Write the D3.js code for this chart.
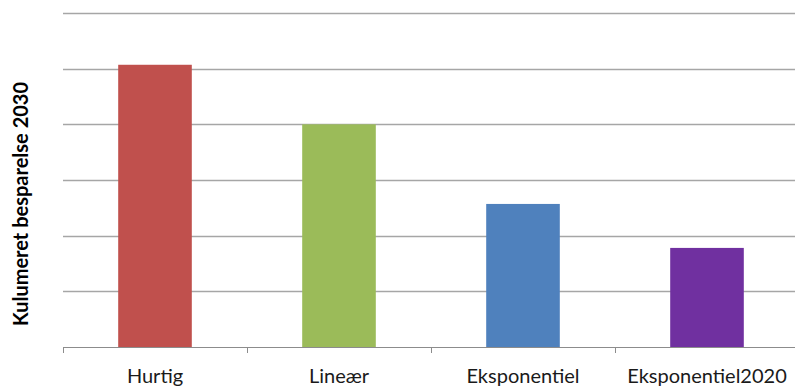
<!DOCTYPE html>
<html>
<head>
<meta charset="utf-8">
<script src="https://cdn.jsdelivr.net/npm/d3@7"></script>
<style>
  html, body { margin: 0; padding: 0; background: #fff; overflow: hidden; }
  svg { display: block; }
</style>
</head>
<body>
<svg id="chart" width="795" height="387"></svg>
<script>
// Cumulative savings 2030 per scenario (gridline units)
const categories = ["Hurtig", "Lineær", "Eksponentiel", "Eksponentiel2020"];
const savings = [5.07, 4.0, 2.57, 1.78];
const barColors = ["#C0504D", "#9BBB59", "#4F81BD", "#7030A0"];
const yTicks = [0, 1, 2, 3, 4, 5, 6];
const yTitle = "Kulumeret besparelse 2030";

const svg = d3.select("#chart");
const margin = { left: 63, top: 13, bottom: 40 };
const plotRight = 799;
const plotBottom = 347;

const x = d3.scaleBand()
  .domain(categories)
  .range([margin.left, plotRight])
  .paddingInner(0.6)
  .paddingOuter(0.3);

const y = d3.scaleLinear()
  .domain([0, 6])
  .range([plotBottom, margin.top]);

// Horizontal gridlines
svg.append("g")
  .selectAll("line")
  .data(yTicks.filter(d => d > 0))
  .join("line")
  .attr("x1", margin.left)
  .attr("x2", plotRight)
  .attr("y1", d => Math.round(y(d)) + 0.5)
  .attr("y2", d => Math.round(y(d)) + 0.5)
  .attr("stroke", "#a6a6a6")
  .attr("stroke-width", 1.3);

// Bars
svg.append("g")
  .selectAll("rect")
  .data(categories)
  .join("rect")
  .attr("x", d => x(d))
  .attr("width", x.bandwidth())
  .attr("y", (d, i) => y(savings[i]))
  .attr("height", (d, i) => plotBottom - y(savings[i]))
  .attr("fill", (d, i) => barColors[i]);

// Category axis: baseline with tick marks between categories
const xAxis = svg.append("g");
xAxis.append("line")
  .attr("x1", margin.left)
  .attr("x2", plotRight)
  .attr("y1", plotBottom + 0.5)
  .attr("y2", plotBottom + 0.5)
  .attr("stroke", "#8c8c8c")
  .attr("stroke-width", 1);

const step = x.step();
xAxis.selectAll("line.tick")
  .data(d3.range(categories.length + 1))
  .join("line")
  .attr("class", "tick")
  .attr("x1", i => Math.round(margin.left + i * step) + 0.5)
  .attr("x2", i => Math.round(margin.left + i * step) + 0.5)
  .attr("y1", plotBottom)
  .attr("y2", plotBottom + 6)
  .attr("stroke", "#8c8c8c")
  .attr("stroke-width", 1);

xAxis.selectAll("text")
  .data(categories)
  .join("text")
  .attr("x", d => x(d) + x.bandwidth() / 2)
  .attr("y", 383)
  .attr("text-anchor", "middle")
  .attr("font-family", "Lato, 'Open Sans', sans-serif")
  .attr("font-size", 20)
  .attr("fill", "#1a1a1a")
  .text(d => d);

// Y-axis title
svg.append("text")
  .attr("transform", "translate(28,204) rotate(-90)")
  .attr("text-anchor", "middle")
  .attr("font-family", "Lato, 'Open Sans', sans-serif")
  .attr("font-weight", "bold")
  .attr("font-size", 20)
  .attr("fill", "#000")
  .text(yTitle);
</script>
</body>
</html>
